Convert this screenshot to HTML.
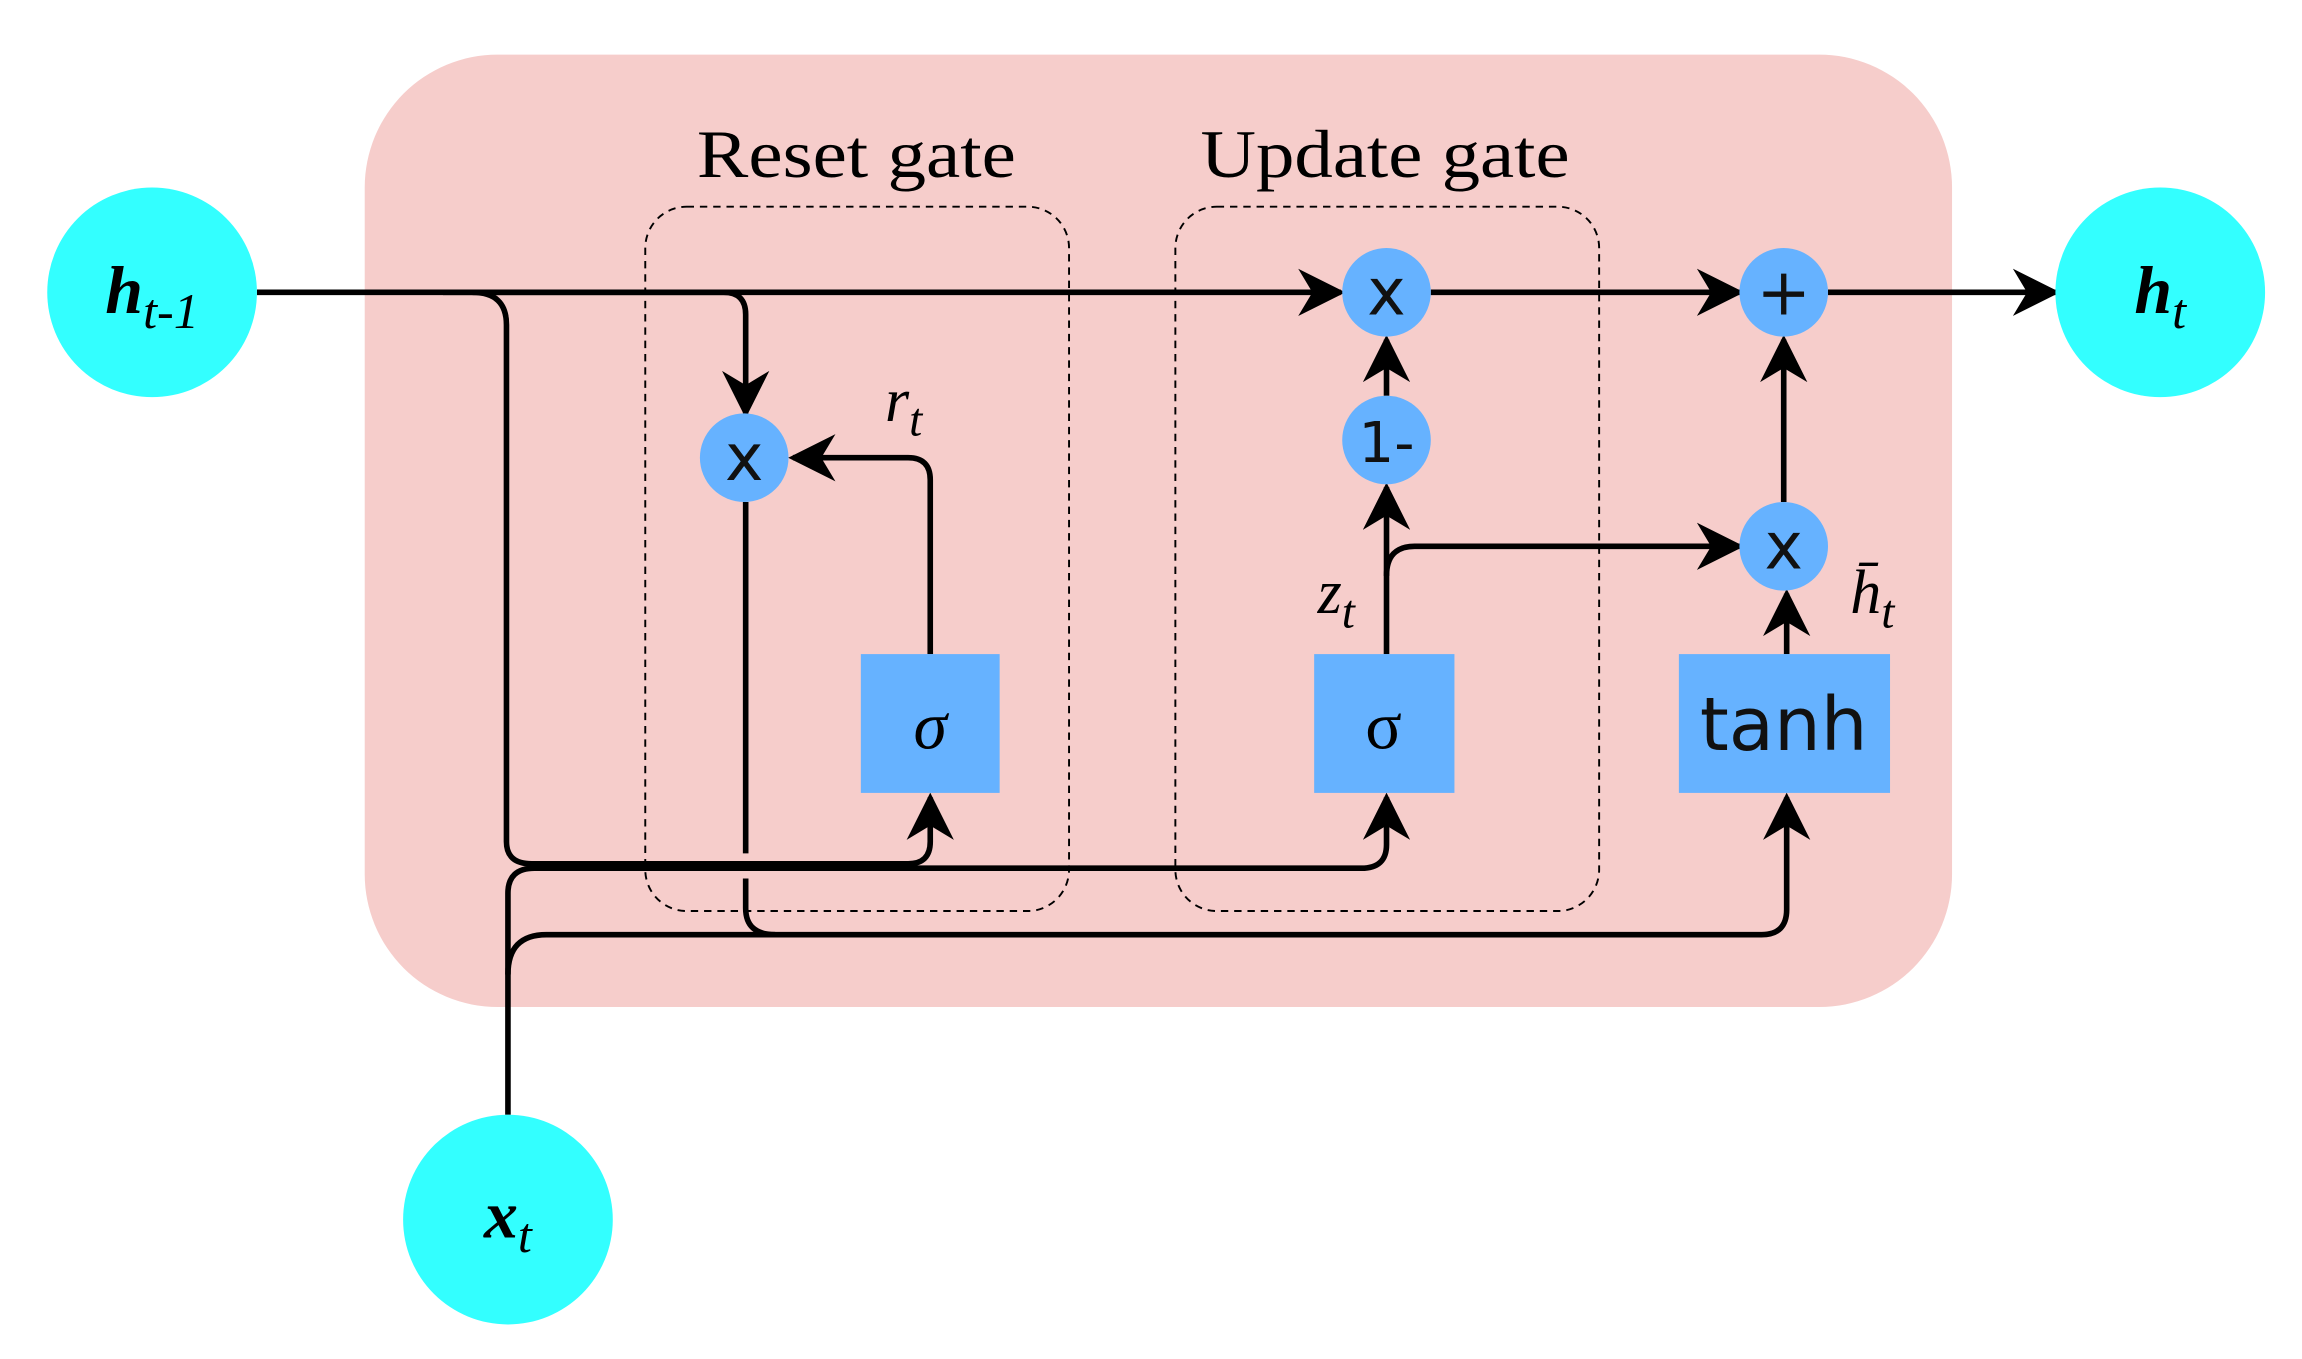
<!DOCTYPE html>
<html><head><meta charset="utf-8"><style>
html,body{margin:0;padding:0;background:#fff;}
svg{display:block;}
</style></head><body>
<svg width="2302" height="1359" viewBox="0 0 1559 920.4" preserveAspectRatio="none" xmlns="http://www.w3.org/2000/svg">
<defs>
<marker id="b" viewBox="0 0 10 10" refX="9" refY="5" markerWidth="32" markerHeight="32" markerUnits="userSpaceOnUse" orient="auto">
<path d="M0,0 L10,5 L0,10 L3,5 Z" fill="#000"/>
</marker>
</defs>
<rect x="247" y="37" width="1075" height="645" rx="90" fill="#f6cdcb"/>
<g fill="none" stroke="#000" stroke-width="1.3" stroke-dasharray="5,4">
<rect x="437" y="140" width="287" height="477" rx="28"/>
<rect x="796" y="140" width="287" height="477" rx="28"/>
</g>
<g font-family="Liberation Serif, serif" font-size="46" fill="#000" text-anchor="middle">
<text x="580" y="120" textLength="216" lengthAdjust="spacingAndGlyphs">Reset gate</text>
<text x="938" y="120" textLength="250" lengthAdjust="spacingAndGlyphs">Update gate</text>
</g>
<g fill="none" stroke="#000" stroke-width="3.8">
<path d="M174,198 L908,198" marker-end="url(#b)"/>
<path d="M969,198 L1178,198" marker-end="url(#b)"/>
<path d="M1238,198 L1392,198" marker-end="url(#b)"/>
<path d="M300,198 L490,198 Q505,198 505,213 L505,280" marker-end="url(#b)"/>
<path d="M320,198 Q343,198 343,220 L343,570 Q343,585 360,585 L615,585 Q630,585 630,570 L630,540" marker-end="url(#b)"/>
<path d="M344,755 L344,605 Q344,588 362,588 L922,588 Q939,588 939,572 L939,540" marker-end="url(#b)"/>
<path d="M344,660 Q344,633 370,633 L1193,633 Q1210,633 1210,616 L1210,540" marker-end="url(#b)"/>
<path d="M505,340 L505,578"/>
<path d="M505,595 L505,615 Q505,633 525,633"/>
<path d="M630,443 L630,325 Q630,310 615,310 L537,310" marker-end="url(#b)"/>
<path d="M939,443 L939,330" marker-end="url(#b)"/>
<path d="M939,268 L939,230" marker-end="url(#b)"/>
<path d="M939,390 Q939,370 958,370 L1178,370" marker-end="url(#b)"/>
<path d="M1210,443 L1210,402" marker-end="url(#b)"/>
<path d="M1208,340 L1208,230" marker-end="url(#b)"/>
</g>
<g fill="#66b2ff">
<rect x="583" y="443" width="94" height="94"/>
<rect x="890" y="443" width="95" height="94"/>
<rect x="1137" y="443" width="143" height="94"/>
<circle cx="504" cy="310" r="30"/>
<circle cx="939" cy="198" r="30"/>
<circle cx="939" cy="298" r="30"/>
<circle cx="1208" cy="198" r="30"/>
<circle cx="1208" cy="370" r="30"/>
</g>
<g fill="#33ffff">
<circle cx="103" cy="198" r="71"/>
<circle cx="1463" cy="198" r="71"/>
<circle cx="344" cy="826" r="71"/>
</g>
<g font-family="DejaVu Sans, Liberation Sans, sans-serif" fill="#111" text-anchor="middle">
<text x="504" y="325" font-size="44">x</text>
<text x="939" y="213" font-size="44">x</text>
<text x="1208" y="385" font-size="44">x</text>
<text x="939" y="313" font-size="38">1-</text>
<text x="1208" y="213" font-size="44">+</text>
<text x="1208" y="508" font-size="50">tanh</text>
</g>
<g font-family="Liberation Serif, serif" fill="#000" text-anchor="middle">
<text x="630" y="507" font-size="46" font-style="italic">σ</text>
<text x="937" y="507" font-size="46">σ</text>
<text x="612" y="285" font-size="42" font-style="italic">r<tspan font-size="32" dy="10">t</tspan></text>
<text x="905" y="415" font-size="42" font-style="italic">z<tspan font-size="32" dy="10">t</tspan></text>
<text x="1268" y="415" font-size="42" font-style="italic">h̄<tspan font-size="32" dy="10">t</tspan></text>
<text x="103" y="212" font-size="46" font-weight="bold" font-style="italic">h<tspan font-size="34" dy="10" font-weight="normal">t-1</tspan></text>
<text x="1463" y="212" font-size="46" font-weight="bold" font-style="italic">h<tspan font-size="34" dy="10" font-weight="normal">t</tspan></text>
<text x="344" y="838" font-size="46" font-weight="bold" font-style="italic">x<tspan font-size="34" dy="10" font-weight="normal">t</tspan></text>
</g>
</svg>
</body></html>
